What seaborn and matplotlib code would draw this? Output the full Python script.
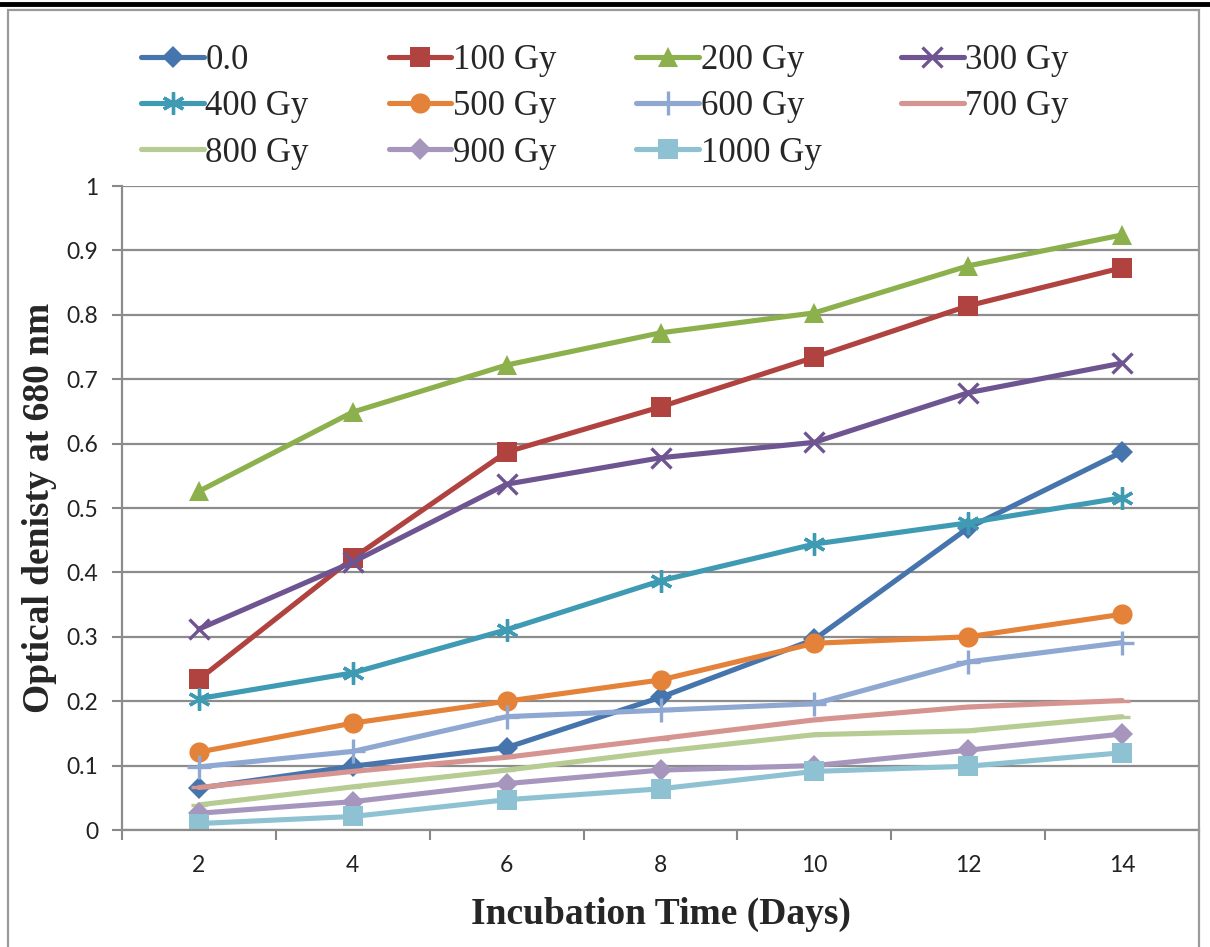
import matplotlib
matplotlib.use("Agg")
import matplotlib.pyplot as plt
import seaborn as sns
import numpy as np
import pandas as pd
from matplotlib.lines import Line2D
from matplotlib.patches import Rectangle

# ---------------- data ----------------
days = [2, 4, 6, 8, 10, 12, 14]
series_names = ["0.0", "100 Gy", "200 Gy", "300 Gy", "400 Gy", "500 Gy",
                "600 Gy", "700 Gy", "800 Gy", "900 Gy", "1000 Gy"]
od_0 = [0.065, 0.099, 0.128, 0.206, 0.296, 0.469, 0.587]
od_100 = [0.234, 0.422, 0.587, 0.657, 0.734, 0.814, 0.873]
od_200 = [0.526, 0.649, 0.722, 0.772, 0.803, 0.876, 0.924]
od_300 = [0.312, 0.416, 0.537, 0.578, 0.602, 0.679, 0.725]
od_400 = [0.204, 0.244, 0.311, 0.387, 0.444, 0.477, 0.516]
od_500 = [0.121, 0.166, 0.200, 0.233, 0.290, 0.300, 0.335]
od_600 = [0.098, 0.122, 0.176, 0.186, 0.196, 0.261, 0.291]
od_700 = [0.066, 0.091, 0.113, 0.142, 0.171, 0.191, 0.201]
od_800 = [0.039, 0.067, 0.093, 0.122, 0.148, 0.154, 0.176]
od_900 = [0.026, 0.044, 0.072, 0.093, 0.100, 0.124, 0.149]
od_1000 = [0.010, 0.021, 0.047, 0.064, 0.091, 0.099, 0.120]
all_values = [od_0, od_100, od_200, od_300, od_400, od_500,
              od_600, od_700, od_800, od_900, od_1000]
y_ticks = [0, 0.1, 0.2, 0.3, 0.4, 0.5, 0.6, 0.7, 0.8, 0.9, 1.0]
y_tick_labels = ["0", "0.1", "0.2", "0.3", "0.4", "0.5", "0.6", "0.7", "0.8", "0.9", "1"]

# ---------------- styles ----------------
colors = ["#4674AC", "#B0423F", "#8CB04B", "#6E5592", "#3F9BB3", "#E4823A",
          "#8EA8D2", "#D69491", "#B7CC92", "#A696BD", "#8EC2D3"]
markers = ["D", "s", "^", "x", (6, 2, 0), "o", "+", "_", "_", "D", "s"]
msizes = [11, 14, 14, 14, 16, 14.5, 17, 12, 12, 11, 14]
LW = 3.7

rows = []
for name, vals in zip(series_names, all_values):
    for d, v in zip(days, vals):
        rows.append({"Day": d, "OD": v, "Dose": name})
df = pd.DataFrame(rows)

sns.set_theme(style="white")
plt.rcParams["font.family"] = ["Lato", "DejaVu Sans"]

fig = plt.figure(figsize=(12.10, 9.47), dpi=100)
ax = fig.add_axes([122 / 1210, 1 - 830 / 947, (1199 - 122) / 1210, (830 - 186) / 947])


def is_line_marker(mk):
    return mk in ("x", "+", "_") or isinstance(mk, tuple)


for name, col, mk, ms in zip(series_names, colors, markers, msizes):
    sub = df[df["Dose"] == name]
    sns.lineplot(data=sub, x="Day", y="OD", ax=ax, color=col, linewidth=LW,
                 marker=mk, markersize=ms,
                 markeredgewidth=2.4 if is_line_marker(mk) else 0,
                 markeredgecolor=col, markerfacecolor=col,
                 label=name, legend=False, errorbar=None)

ax.set_xlim(1, 15)
ax.set_ylim(0, 1)
ax.set_yticks(y_ticks)
ax.set_yticklabels(y_tick_labels, fontsize=16.5)
ax.set_xticks([1, 3, 5, 7, 9, 11, 13, 15])
ax.set_xticklabels([""] * 8)
ax.set_xticks(days, minor=True)
ax.set_xticklabels([str(d) for d in days], minor=True, fontsize=16.5)
ax.tick_params(axis="x", which="major", direction="out", length=7, width=1.5,
               color="#888888", bottom=True)
ax.tick_params(axis="x", which="minor", length=0, pad=18, labelcolor="#222222")
ax.tick_params(axis="y", direction="out", length=7, width=1.5, color="#888888",
               left=True, pad=10, labelcolor="#222222")
ax.grid(axis="y", color="#8C8C8C", linewidth=1.6)
ax.grid(axis="x", visible=False)
for s in ["top", "right"]:
    ax.spines[s].set_visible(False)
for s in ["left", "bottom"]:
    ax.spines[s].set_color("#8C8C8C")
    ax.spines[s].set_linewidth(1.6)
ax.set_axisbelow(True)

ax.set_xlabel("Incubation Time (Days)", fontsize=27, fontweight="bold",
              family="Liberation Serif", labelpad=15)
ax.set_ylabel("Optical denisty at 680 nm", fontsize=27, fontweight="bold",
              family="Liberation Serif", labelpad=7)

handles = []
for col, mk, ms in zip(colors, markers, msizes):
    handles.append(Line2D([0], [0], color=col, linewidth=LW, marker=mk,
                          markersize=ms,
                          markeredgewidth=2.4 if is_line_marker(mk) else 0,
                          markeredgecolor=col, markerfacecolor=col))
# row-major ordering for a 4-column legend (matplotlib fills columns first)
order = [0, 4, 8, 1, 5, 9, 2, 6, 10, 3, 7]
leg = fig.legend([handles[i] for i in order], [series_names[i] for i in order],
                 ncol=4, loc="upper left",
                 bbox_to_anchor=(110 / 1210, 1 - 13 / 947), frameon=False,
                 prop={"family": "Liberation Serif", "size": 25},
                 handlelength=1.8, handletextpad=0.05, columnspacing=2.3,
                 labelspacing=0.38, numpoints=1)

# chart frame
fig.add_artist(Rectangle((8 / 1210, -0.01), (1199 - 8) / 1210, 1 - 10 / 947 + 0.01,
                         transform=fig.transFigure, fill=False,
                         edgecolor="#9A9A9A", linewidth=1.6))
fig.add_artist(Line2D([0, 1], [1 - 4 / 947, 1 - 4 / 947], transform=fig.transFigure,
                      color="black", linewidth=3.5))

fig.savefig("out.png", dpi=100, facecolor="white")
